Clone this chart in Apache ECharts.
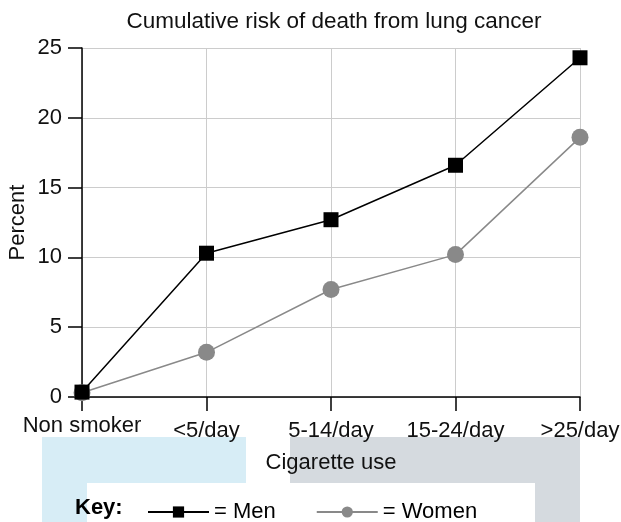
<!DOCTYPE html>
<html><head><meta charset="utf-8">
<script src="https://cdn.jsdelivr.net/npm/echarts@6/dist/echarts.min.js"></script>
<style>html,body{margin:0;padding:0;background:#fff}#c{width:621px;height:522px}</style>
</head><body><div id="c"></div>
<script>
const categories = ['Non smoker', '<5/day', '5-14/day', '15-24/day', '>25/day'];
const menValues = [0.35, 10.3, 12.7, 16.6, 24.3];
const womenValues = [0.3, 3.2, 7.7, 10.2, 18.6];
const yTicks = [0, 5, 10, 15, 20, 25];

const chart = echarts.init(document.getElementById('c'), null, {renderer: 'canvas'});
const FONT = 'Liberation Sans, Arial, sans-serif';
chart.setOption({
  animation: false,
  backgroundColor: '#fff',
  graphic: [
    {type: 'rect', z: -10, shape: {x: 42, y: 437, width: 204, height: 85}, style: {fill: '#d7edf6'}},
    {type: 'rect', z: -10, shape: {x: 290, y: 437, width: 290, height: 85}, style: {fill: '#d5dadf'}},
    {type: 'rect', z: -9, shape: {x: 87, y: 483, width: 448, height: 39}, style: {fill: '#ffffff'}},
    {type: 'text', z: 10, left: 75, top: 497, style: {text: 'Key:', font: 'bold 22px ' + FONT, fill: '#000'}}
  ],
  title: {
    text: 'Cumulative risk of death from lung cancer',
    left: 329, top: 5, textAlign: 'center',
    textStyle: {fontFamily: FONT, fontSize: 22.5, fontWeight: 'normal', color: '#111'}
  },
  legend: {
    left: 142, top: 496,
    itemWidth: 61, itemHeight: 14, itemGap: 40,
    textStyle: {fontFamily: FONT, fontSize: 22, color: '#000'},
    formatter: n => '= ' + n,
    data: ['Men', 'Women']
  },
  grid: {left: 82, right: 41, top: 48, bottom: 125, outerBoundsMode: 'none', containLabel: false},
  xAxis: {
    type: 'category', data: categories, boundaryGap: false,
    name: 'Cigarette use', nameLocation: 'middle', nameGap: 55, nameMoveOverlap: false,
    nameTextStyle: {fontFamily: FONT, fontSize: 22, color: '#111'},
    axisLine: {lineStyle: {color: '#000', width: 1.5}},
    axisTick: {show: true, length: 14, lineStyle: {color: '#000', width: 1.5}},
    splitLine: {show: true, lineStyle: {color: '#cccccc', width: 1}},
    axisLabel: {
      interval: 0, hideOverlap: false, margin: 18, color: '#111', fontFamily: FONT, fontSize: 22,
      formatter: (v, i) => i === 0 ? '{a|' + v + '}' : '{b|' + v + '}',
      rich: {
        a: {fontFamily: FONT, fontSize: 22, color: '#111'},
        b: {fontFamily: FONT, fontSize: 22, color: '#111', padding: [5, 0, 0, 0]}
      }
    }
  },
  yAxis: {
    type: 'value', min: 0, max: 25, interval: 5,
    name: 'Percent', nameLocation: 'middle', nameGap: 53, nameMoveOverlap: false,
    nameTextStyle: {fontFamily: FONT, fontSize: 22, color: '#111'},
    axisLine: {show: true, lineStyle: {color: '#000', width: 1.5}},
    axisTick: {show: true, length: 14, lineStyle: {color: '#000', width: 1.5}},
    splitLine: {show: true, lineStyle: {color: '#cccccc', width: 1}},
    axisLabel: {margin: 20, color: '#111', fontFamily: FONT, fontSize: 22,
      formatter: v => yTicks.includes(v) ? String(v) : ''}
  },
  series: [
    {name: 'Women', type: 'line', data: womenValues, symbol: 'circle', symbolSize: 17,
      itemStyle: {color: '#898989'}, lineStyle: {color: '#898989', width: 1.5}, z: 2},
    {name: 'Men', type: 'line', data: menValues, symbol: 'rect', symbolSize: 15,
      itemStyle: {color: '#000'}, lineStyle: {color: '#000', width: 1.5}, z: 3}
  ]
});
</script></body></html>
